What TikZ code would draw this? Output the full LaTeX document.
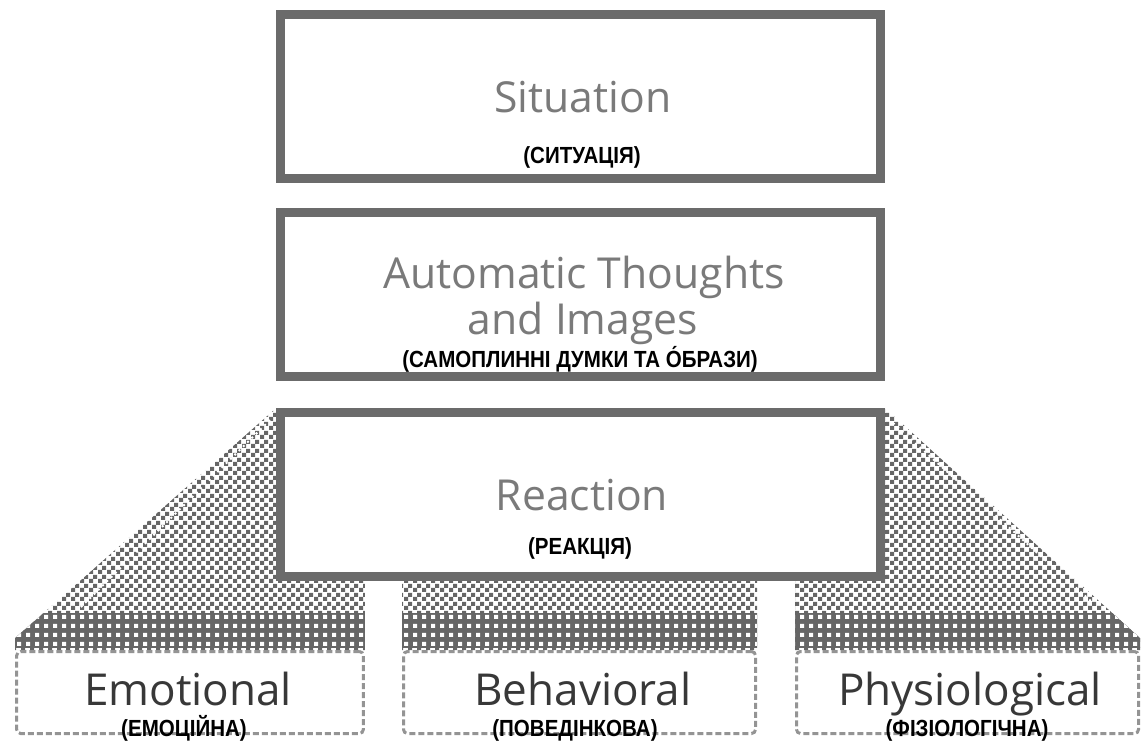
\documentclass[tikz,border=0pt]{standalone}
\usepackage{fontspec}
\setmainfont{Open Sans}
\newfontfamily\glossfont{Liberation Sans}[FakeStretch=0.88]
\usetikzlibrary{patterns}
\colorlet{frame colour}{black!58}
\colorlet{shade colour}{black!60}
\colorlet{title colour}{black!52}
\colorlet{part colour}{black!78}
\colorlet{part frame colour}{black!42}
% Coarse dither look for the funnel areas
\pgfdeclarepatternformonly{checker}{\pgfpointorigin}{\pgfqpoint{6.4pt}{6.4pt}}%
    {\pgfqpoint{6.4pt}{6.4pt}}{%
    \pgfpathrectangle{\pgfpointorigin}{\pgfqpoint{3.2pt}{3.2pt}}%
    \pgfpathrectangle{\pgfqpoint{3.2pt}{3.2pt}}{\pgfqpoint{3.2pt}{3.2pt}}%
    \pgfusepath{fill}}
\pgfdeclarepatternformonly{pinholes}{\pgfpointorigin}{\pgfqpoint{6.4pt}{6.4pt}}%
    {\pgfqpoint{6.4pt}{6.4pt}}{%
    \pgfpathrectangle{\pgfpointorigin}{\pgfqpoint{3.2pt}{3.2pt}}%
    \pgfusepath{fill}}
\tikzset{
    % Define a set of styles
    % First the fills
    funnel fill/.style={pattern=checker, pattern color=shade colour},
    % Next the boxes
    stage/.style={draw=frame colour, line width=6.5pt, fill=white,
        minimum width=450pt, minimum height=123pt},
    part/.style={draw=part frame colour, line width=2.25pt,
        dash pattern=on 4.5pt off 2.25pt, rounded corners=3pt, fill=white,
        minimum height=61.5pt},
    % And the texts
    title/.style={anchor=base, inner sep=0, text=title colour,
        font=\fontsize{32}{38}\selectfont},
    part title/.style={title, text=part colour, font=\fontsize{33}{38}\selectfont},
    gloss/.style={anchor=base, inner sep=0,
        font=\glossfont\bfseries\fontsize{17.5}{20}\selectfont},
    fold/.style={white, line width=1.5pt, dash pattern=on 1.5pt off 3pt},
    % We almost always want centre aligned node text
    every node/.style={align=center},
}
\pgfdeclarelayer{background}
\pgfsetlayers{background,main}

\begin{document}
\begin{tikzpicture}[x=0.75pt, y=-0.75pt]
\useasboundingbox (0,0) rectangle (1143,740);

\path
    (580.5,96.5) node (situation) [stage] {}
    (580.5,294.5) node (thoughts) [stage] {}
    (580.5,494.5) node (reaction) [stage] {};
\path
    (190,692.5) node (emotional) [part, minimum width=260pt] {}
    (579.5,692.5) node (behavioral) [part, minimum width=264pt] {}
    (967.5,692.5) node (physiological) [part, minimum width=256.5pt] {};

\path
    (583,112) node (situation title) [title] {Situation}
    (582,163) node (situation gloss) [gloss] {(СИТУАЦІЯ)}
    (584,288) node (thoughts title) [title] {Automatic Thoughts}
    (583,334) node (thoughts title 2) [title] {and Images}
    (580,367) node (thoughts gloss) [gloss] {(САМОПЛИННІ ДУМКИ ТА О́БРАЗИ)}
    (582,510) node (reaction title) [title] {Reaction}
    (580,554) node (reaction gloss) [gloss] {(РЕАКЦІЯ)};
\path
    (188,705) node (emotional title) [part title] {Emotional}
    (184,736) node (emotional gloss) [gloss] {(ЕМОЦІЙНА)}
    (583,705) node (behavioral title) [part title] {Behavioral}
    (575,736) node (behavioral gloss) [gloss] {(ПОВЕДІНКОВА)}
    (970,705) node (physiological title) [part title] {Physiological}
    (967,736) node (physiological gloss) [gloss] {(ФІЗІОЛОГІЧНА)};

% Funnel from the reaction down to its three parts
\begin{pgfonlayer}{background}
\begin{scope}
    \clip (reaction.north west) -- ([yshift=9pt]emotional.north west)
        -- (emotional.north west) -- (emotional.north east)
        -- (emotional.north east |- reaction.south) -- (reaction.south west)
        -- cycle
        (behavioral.north west |- reaction.south) rectangle (behavioral.north east)
        (reaction.north east) -- ([yshift=9pt]physiological.north east)
        -- (physiological.north east) -- (physiological.north west)
        -- (physiological.north west |- reaction.south) -- (reaction.south east)
        -- cycle;
    \fill [funnel fill] (0,400) rectangle (1143,660);
    \fill [shade colour] (0,613) rectangle (1143,648);
    \fill [pattern=pinholes, pattern color=white] (0,613) rectangle (1143,648);
    % faint folds along the slopes
    \draw [fold] (270,420) -- (80,608);
    \draw [fold] (893,423) -- (1093,603);
\end{scope}
\end{pgfonlayer}

\end{tikzpicture}
\end{document}
